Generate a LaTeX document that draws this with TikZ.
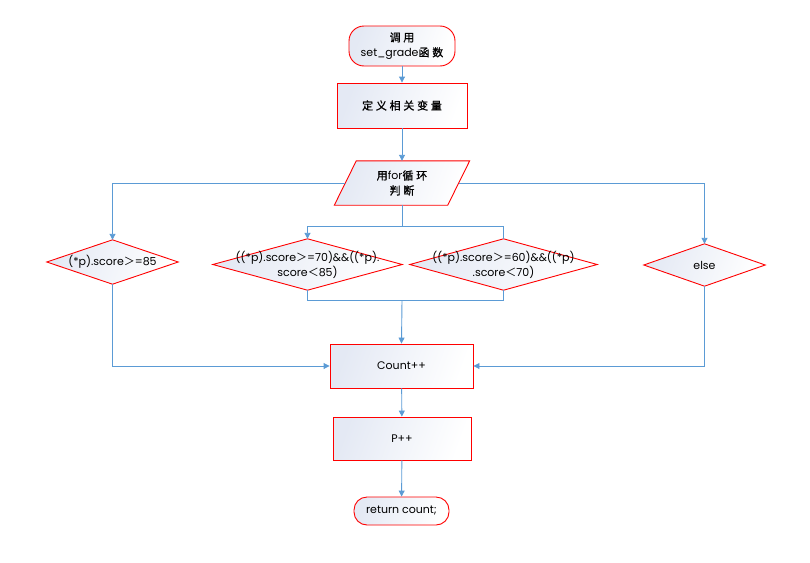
\documentclass[tikz,border=0pt]{standalone}
\usepackage{fontspec}
\setmainfont{Poppins}
\newfontfamily\cjk[LetterSpace=25,FakeBold=1.2]{Noto Sans CJK SC}
\newfontfamily\cjks{Noto Sans CJK SC}
\usetikzlibrary{arrows.meta,backgrounds,calc}
\definecolor{fillc}{RGB}{228,233,244}
\definecolor{linec}{RGB}{91,155,213}
\definecolor{borderc}{RGB}{255,0,0}
\newcommand{\gt}{{\cjks ＞}}
\newcommand{\lt}{{\cjks ＜}}
\tikzset{
  shapefill/.style={draw=borderc, line width=0.9pt, left color=fillc, right color=white, shading angle=70},
  boxnode/.style={shapefill, rectangle, align=center, inner sep=0pt},
  termnode/.style={shapefill, rectangle, rounded corners=15pt, align=center, inner sep=0pt},
  txtnode/.style={rectangle, align=center, inner sep=0pt},
  conn/.style={draw=linec, line width=0.9pt},
  arr/.style={conn, -{Triangle[width=6pt,length=6pt]}},
  lab/.style={font=\fontsize{11}{15}\selectfont}
}
\begin{document}
\begin{tikzpicture}[x=1pt,y=-1pt]
\useasboundingbox (0,0) rectangle (810,562);
% nodes
\node[termnode, minimum width=106pt, minimum height=40pt, lab] (start) at (402,46) {{\cjk 调用}\\set\_grade{\cjk 函数}};
\node[boxnode, minimum width=130pt, minimum height=45pt, lab] (def) at (402,105.5) {\cjk 定义相关变量};
\node[txtnode, minimum width=113pt, minimum height=44pt, lab] (loop) at (402,183) {{\cjk 用}for{\cjk 循环}\\{\cjk 判断}};
\node[txtnode, minimum width=131pt, minimum height=44pt, lab] (d1) at (112.5,262) {(*p).score\gt=85};
\node[txtnode, minimum width=189pt, minimum height=51pt, lab] (d2) at (307.5,264.5) {((*p).score\gt=70)\&\&((*p).\\score\lt85)};
\node[txtnode, minimum width=187pt, minimum height=51pt, lab] (d3) at (503.5,264.5) {((*p).score\gt=60)\&\&((*p)\\.score\lt70)};
\node[txtnode, minimum width=121pt, minimum height=42pt, lab] (d4) at (704.5,265) {else};
\node[boxnode, minimum width=143pt, minimum height=44pt, lab] (cnt) at (401.5,366) {Count++};
\node[boxnode, minimum width=138pt, minimum height=43pt, lab] (pp) at (402,438.5) {P++};
\node[termnode, minimum width=95pt, minimum height=28pt, rounded corners=13pt, lab] (ret) at (401.5,511) {return count;};
% shapes behind text
\begin{scope}[on background layer]
\path[shapefill] ($(loop.north west)+(11,0)$) -- ($(loop.north east)+(11,0)$) -- ($(loop.south east)+(-11,0)$) -- ($(loop.south west)+(-11,0)$) -- cycle;
\foreach \d in {d1,d2,d3,d4}{
  \path[shapefill] (\d.north) -- (\d.east) -- (\d.south) -- (\d.west) -- cycle;
}
\end{scope}
% junction coordinates
\coordinate (jt) at (402,226);
\coordinate (jb) at (402,300);
% connectors
\draw[arr] (start) -- (def);
\draw[arr] (def) -- (loop);
\draw[arr] (loop.west) -| (d1.north);
\draw[arr] (loop.east) -| (d4.north);
\draw[conn] (loop.south) -- (jt);
\draw[arr] (jt) -| (d2.north);
\draw[conn] (jt) -| (d3.north);
\draw[conn] (d2.south) |- (jb);
\draw[conn] (d3.south) |- (jb);
\draw[arr] (jb) -- (cnt.north);
\draw[arr] (d1.south) |- (cnt.west);
\draw[arr] (d4.south) |- (cnt.east);
\draw[arr] (cnt) -- (pp);
\draw[arr] (pp) -- (ret);
\end{tikzpicture}
\end{document}
